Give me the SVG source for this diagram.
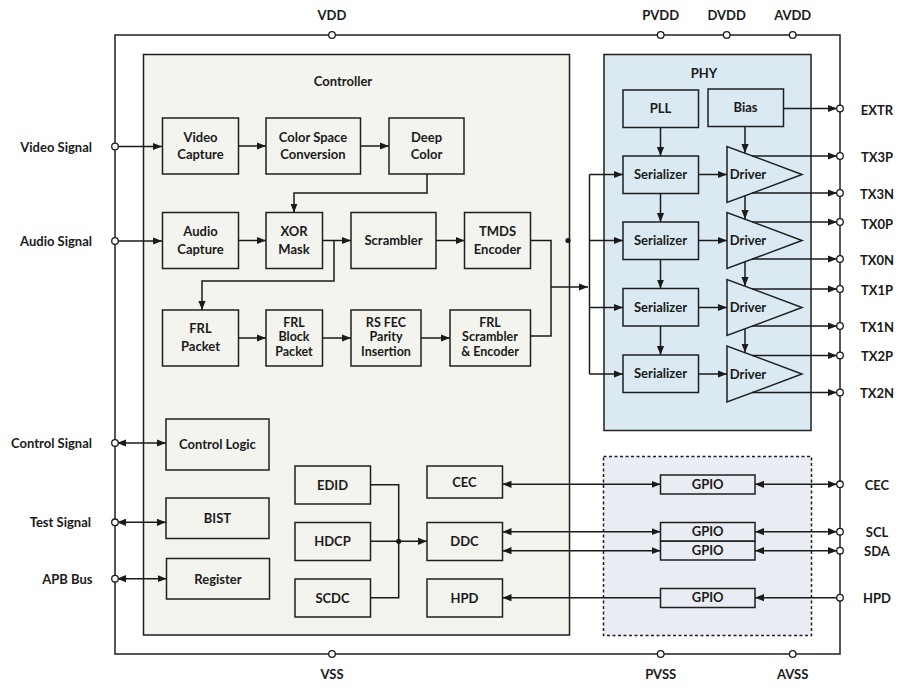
<svg xmlns="http://www.w3.org/2000/svg" width="902" height="692" viewBox="0 0 902 692">
<style>
text{font-family:Lato,"Open Sans","Liberation Sans",sans-serif;font-weight:700;font-size:13px;fill:#1a1a1a;text-anchor:middle}
.l{text-anchor:end}
.s{font-size:12.5px}
.b{stroke:#1f1f1f;stroke-width:1.5}
.c rect,.c polygon{fill:#f4f4ef}
.p rect,.p polygon{fill:#dbeaf2}
.g rect{fill:#e9edf3}
.w path,.w line{fill:none;stroke:#1a1a1a;stroke-width:1.5}
.pin{fill:#fff;stroke:#1a1a1a;stroke-width:1.3}
</style>
<defs>
<marker id="a" viewBox="0 0 10 10" refX="10" refY="5" markerWidth="9" markerHeight="9" markerUnits="userSpaceOnUse" orient="auto-start-reverse"><path d="M0,1 L10,5 L0,9 z" fill="#1a1a1a"/></marker>
</defs>

<rect id="outer" x="115" y="35" width="725" height="619" fill="#fff" stroke="#1f1f1f" stroke-width="1.5"/>

<g id="controller" class="c">
<rect class="b" x="143.5" y="54.5" width="426" height="580.5"/>
<text x="343" y="86">Controller</text>
</g>
<g id="phy" class="p">
<rect class="b" x="604" y="54.5" width="207" height="376"/>
<text x="704" y="78">PHY</text>
</g>
<g id="gpio-area" class="g">
<rect x="603.5" y="456.5" width="208" height="179" stroke="#1f1f1f" stroke-width="1.5" stroke-dasharray="3,2.5"/>
</g>

<g id="video-capture" class="c"><rect class="b" x="162.5" y="118" width="76" height="56"/><text x="200.5" y="142">Video</text><text x="200.5" y="159">Capture</text></g>
<g id="csc" class="c"><rect class="b" x="266" y="118" width="94.5" height="56"/><text x="313" y="142">Color Space</text><text x="313" y="159">Conversion</text></g>
<g id="deep-color" class="c"><rect class="b" x="389" y="118" width="75" height="56"/><text x="426.5" y="142">Deep</text><text x="426.5" y="159">Color</text></g>

<g id="audio-capture" class="c"><rect class="b" x="162.5" y="212.5" width="76" height="56"/><text x="200.5" y="236">Audio</text><text x="200.5" y="253.5">Capture</text></g>
<g id="xor-mask" class="c"><rect class="b" x="266" y="212.5" width="56.5" height="56"/><text x="294" y="236">XOR</text><text x="294" y="253.5">Mask</text></g>
<g id="scrambler" class="c"><rect class="b" x="351" y="212.5" width="85" height="56"/><text x="393.5" y="245">Scrambler</text></g>
<g id="tmds" class="c"><rect class="b" x="464.5" y="212.5" width="66" height="56"/><text x="497.5" y="236">TMDS</text><text x="497.5" y="253.5">Encoder</text></g>

<g id="frl-packet" class="c"><rect class="b" x="162.5" y="310" width="76" height="56"/><text x="200.5" y="333">FRL</text><text x="200.5" y="351">Packet</text></g>
<g id="frl-block" class="c"><rect class="b" x="266" y="310" width="56.5" height="56"/><text class="s" x="294" y="326.5">FRL</text><text class="s" x="294" y="341">Block</text><text class="s" x="294" y="355.5">Packet</text></g>
<g id="rs-fec" class="c"><rect class="b" x="351" y="310" width="70" height="56"/><text class="s" x="386" y="326.5">RS FEC</text><text class="s" x="386" y="341">Parity</text><text class="s" x="386" y="355.5">Insertion</text></g>
<g id="frl-scrambler" class="c"><rect class="b" x="450" y="310" width="80.5" height="56"/><text class="s" x="490" y="326.5">FRL</text><text class="s" x="490" y="341">Scrambler</text><text class="s" x="490" y="355.5">&amp; Encoder</text></g>

<g id="control-logic" class="c"><rect class="b" x="166" y="419" width="103" height="51"/><text x="217.5" y="448.5">Control Logic</text></g>
<g id="bist" class="c"><rect class="b" x="166" y="498" width="103" height="40.5"/><text x="217.5" y="523">BIST</text></g>
<g id="register" class="c"><rect class="b" x="166.5" y="558.5" width="103" height="40.5"/><text x="218" y="583.5">Register</text></g>

<g id="edid" class="c"><rect class="b" x="295" y="466" width="75.5" height="38"/><text x="332.5" y="489.5">EDID</text></g>
<g id="hdcp" class="c"><rect class="b" x="295" y="522.5" width="75.5" height="38"/><text x="332.5" y="546">HDCP</text></g>
<g id="scdc" class="c"><rect class="b" x="295" y="579" width="75.5" height="38"/><text x="332.5" y="602.5">SCDC</text></g>

<g id="cec" class="c"><rect class="b" x="427" y="466" width="75.5" height="32"/><text x="464.5" y="486.5">CEC</text></g>
<g id="ddc" class="c"><rect class="b" x="427" y="522.5" width="75.5" height="38"/><text x="464.5" y="546">DDC</text></g>
<g id="hpd" class="c"><rect class="b" x="427" y="579" width="75.5" height="38"/><text x="464.5" y="602.5">HPD</text></g>

<g id="pll" class="p"><rect class="b" x="623" y="90" width="75.5" height="37.5"/><text x="660.5" y="113">PLL</text></g>
<g id="bias" class="p"><rect class="b" x="708" y="89" width="75.5" height="37.5"/><text x="745.5" y="112">Bias</text></g>

<g id="ser1" class="p"><rect class="b" x="623" y="156" width="75.5" height="37.5"/><text x="660.5" y="179">Serializer</text></g>
<g id="ser2" class="p"><rect class="b" x="623" y="222" width="75.5" height="37.5"/><text x="660.5" y="245">Serializer</text></g>
<g id="ser3" class="p"><rect class="b" x="623" y="288.5" width="75.5" height="37.5"/><text x="660.5" y="311.5">Serializer</text></g>
<g id="ser4" class="p"><rect class="b" x="623" y="355" width="75.5" height="37.5"/><text x="660.5" y="378">Serializer</text></g>

<g id="drv1" class="p"><polygon class="b" points="727,146.5 727,202.5 802,174.5"/><text x="748" y="179">Driver</text></g>
<g id="drv2" class="p"><polygon class="b" points="727,212.5 727,268.5 802,240.5"/><text x="748" y="245">Driver</text></g>
<g id="drv3" class="p"><polygon class="b" points="727,279.5 727,335.5 802,307.5"/><text x="748" y="312">Driver</text></g>
<g id="drv4" class="p"><polygon class="b" points="727,346 727,402 802,374"/><text x="748" y="378.5">Driver</text></g>

<g id="gpio1" class="g"><rect class="b" x="660.5" y="475" width="94.5" height="19"/><text x="707.7" y="489">GPIO</text></g>
<g id="gpio2" class="g"><rect class="b" x="660.5" y="522.5" width="94.5" height="18.7"/><text x="707.7" y="536.3">GPIO</text></g>
<g id="gpio3" class="g"><rect class="b" x="660.5" y="541.2" width="94.5" height="18.8"/><text x="707.7" y="555.3">GPIO</text></g>
<g id="gpio4" class="g"><rect class="b" x="660.5" y="588.5" width="94.5" height="19"/><text x="707.7" y="602.4">GPIO</text></g>

<g id="connectors" class="w">
<path d="M117,146.5 H162" marker-end="url(#a)"/>
<path d="M238.5,146 H266" marker-end="url(#a)"/>
<path d="M360.5,146 H389" marker-end="url(#a)"/>
<path d="M427,174 V193 H294 V212.5" marker-end="url(#a)"/>
<path d="M117,241 H162" marker-end="url(#a)"/>
<path d="M238.5,240.5 H266" marker-end="url(#a)"/>
<path d="M322.5,240.5 H351" marker-end="url(#a)"/>
<path d="M334,240.5 V281 H202 V310" marker-end="url(#a)"/>
<path d="M436,240.5 H464.5" marker-end="url(#a)"/>
<path d="M530.5,240.5 H551 V336 H530.5"/>
<path d="M551,287 H588" marker-end="url(#a)"/>
<path d="M238.5,338 H266" marker-end="url(#a)"/>
<path d="M322.5,338 H351" marker-end="url(#a)"/>
<path d="M421,338 H450" marker-end="url(#a)"/>
<path d="M589.5,174.5 V374"/>
<path d="M589.5,174.5 H623" marker-end="url(#a)"/>
<path d="M589.5,240.5 H623" marker-end="url(#a)"/>
<path d="M589.5,307.5 H623" marker-end="url(#a)"/>
<path d="M589.5,374 H623" marker-end="url(#a)"/>
<path d="M660.5,127.5 V156" marker-end="url(#a)"/>
<path d="M660.5,193.5 V222" marker-end="url(#a)"/>
<path d="M660.5,259.5 V288.5" marker-end="url(#a)"/>
<path d="M660.5,326 V355" marker-end="url(#a)"/>
<path d="M698.5,174.5 H727" marker-end="url(#a)"/>
<path d="M698.5,240.5 H727" marker-end="url(#a)"/>
<path d="M698.5,307.5 H727" marker-end="url(#a)"/>
<path d="M698.5,374 H727" marker-end="url(#a)"/>
<path d="M745,126.5 V153" marker-end="url(#a)"/>
<path d="M745,196 V219" marker-end="url(#a)"/>
<path d="M745,262 V286" marker-end="url(#a)"/>
<path d="M745,329 V352.5" marker-end="url(#a)"/>
<path d="M783.5,108.5 H837" marker-end="url(#a)"/>
<path d="M752,156 H837" marker-end="url(#a)"/>
<path d="M752,193 H837" marker-end="url(#a)"/>
<path d="M752,222 H837" marker-end="url(#a)"/>
<path d="M752,259 H837" marker-end="url(#a)"/>
<path d="M752,289 H837" marker-end="url(#a)"/>
<path d="M752,326 H837" marker-end="url(#a)"/>
<path d="M752,355.5 H837" marker-end="url(#a)"/>
<path d="M752,392.5 H837" marker-end="url(#a)"/>
<path d="M117,443 H166" marker-start="url(#a)" marker-end="url(#a)"/>
<path d="M117,522.3 H166" marker-start="url(#a)" marker-end="url(#a)"/>
<path d="M117,578.7 H166.5" marker-start="url(#a)" marker-end="url(#a)"/>
<path d="M370.5,484.7 H398.7 V597.7 H370.5"/>
<path d="M370.5,541.3 H427" marker-end="url(#a)"/>
<path d="M502.5,484.3 H660.5" marker-start="url(#a)" marker-end="url(#a)"/>
<path d="M755,484.3 H837" marker-start="url(#a)" marker-end="url(#a)"/>
<path d="M502.5,531.7 H660.5" marker-start="url(#a)" marker-end="url(#a)"/>
<path d="M755,531.7 H837" marker-start="url(#a)" marker-end="url(#a)"/>
<path d="M502.5,550.7 H660.5" marker-start="url(#a)" marker-end="url(#a)"/>
<path d="M755,550.7 H837" marker-start="url(#a)" marker-end="url(#a)"/>
<path d="M660.5,597.7 H502.5" marker-end="url(#a)"/>
<path d="M840,597.7 H755" marker-end="url(#a)"/>
<circle cx="568" cy="240.5" r="2.6" fill="#1a1a1a" stroke="none"/>
<circle cx="398.7" cy="541.3" r="2.6" fill="#1a1a1a" stroke="none"/>
</g>

<g id="pins">
<circle class="pin" cx="332" cy="35" r="3.3"/>
<circle class="pin" cx="660.7" cy="35" r="3.3"/>
<circle class="pin" cx="726.7" cy="35" r="3.3"/>
<circle class="pin" cx="792.7" cy="35" r="3.3"/>
<circle class="pin" cx="332" cy="654" r="3.3"/>
<circle class="pin" cx="660.7" cy="654" r="3.3"/>
<circle class="pin" cx="792.7" cy="654" r="3.3"/>
<circle class="pin" cx="115" cy="146.5" r="3.3"/>
<circle class="pin" cx="115" cy="241" r="3.3"/>
<circle class="pin" cx="115" cy="443" r="3.3"/>
<circle class="pin" cx="115" cy="522.3" r="3.3"/>
<circle class="pin" cx="115" cy="578.7" r="3.3"/>
<circle class="pin" cx="840" cy="108.5" r="3.3"/>
<circle class="pin" cx="840" cy="156" r="3.3"/>
<circle class="pin" cx="840" cy="193" r="3.3"/>
<circle class="pin" cx="840" cy="222" r="3.3"/>
<circle class="pin" cx="840" cy="259" r="3.3"/>
<circle class="pin" cx="840" cy="289" r="3.3"/>
<circle class="pin" cx="840" cy="326" r="3.3"/>
<circle class="pin" cx="840" cy="355.5" r="3.3"/>
<circle class="pin" cx="840" cy="392.5" r="3.3"/>
<circle class="pin" cx="840" cy="484.3" r="3.3"/>
<circle class="pin" cx="840" cy="531.7" r="3.3"/>
<circle class="pin" cx="840" cy="550.7" r="3.3"/>
<circle class="pin" cx="840" cy="597.7" r="3.3"/>
</g>

<g id="labels">
<text x="332" y="20">VDD</text>
<text x="660.7" y="20">PVDD</text>
<text x="726.7" y="20">DVDD</text>
<text x="792.7" y="20">AVDD</text>
<text x="332" y="679">VSS</text>
<text x="660.7" y="679">PVSS</text>
<text x="792.7" y="679">AVSS</text>
<text class="l" x="92" y="151.5">Video Signal</text>
<text class="l" x="92" y="246">Audio Signal</text>
<text class="l" x="92" y="447.5">Control Signal</text>
<text class="l" x="91" y="527">Test Signal</text>
<text class="l" x="92.5" y="583.5">APB Bus</text>
<text x="877" y="115">EXTR</text>
<text x="877" y="161.5">TX3P</text>
<text x="877" y="199">TX3N</text>
<text x="877" y="229">TX0P</text>
<text x="877" y="264.5">TX0N</text>
<text x="877" y="294.5">TX1P</text>
<text x="877" y="332">TX1N</text>
<text x="877" y="360.5">TX2P</text>
<text x="877" y="398">TX2N</text>
<text x="877" y="490">CEC</text>
<text x="877" y="536.5">SCL</text>
<text x="877" y="555.5">SDA</text>
<text x="877" y="602.5">HPD</text>
</g>
</svg>
